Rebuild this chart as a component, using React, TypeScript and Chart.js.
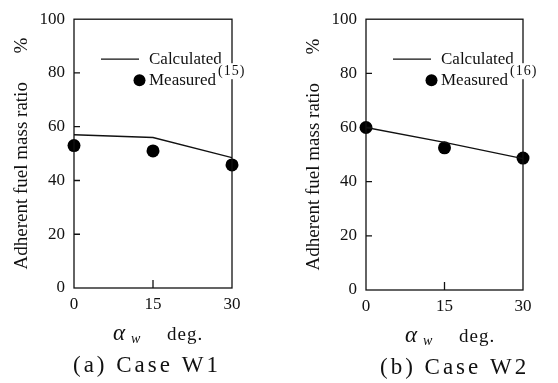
import React, { useEffect, useRef } from "react";
import { Chart, registerables } from "chart.js";

Chart.register(...registerables);

// ---- data ----
const angles = [0, 15, 30];
const w1Calculated = [57, 56, 48.5];
const w1Measured = [53, 51, 45.8];
const w2Calculated = [60, 54.5, 48.5];
const w2Measured = [60, 52.5, 48.7];
const xTickValues = [0, 15, 30];
const yTickValues = [0, 20, 40, 60, 80, 100];
const yAxisTitle = "Adherent fuel mass ratio      %";
const xAxisSymbol = "α";
const xAxisSub = "w";
const xAxisUnit = "deg.";
const legendCalculated = "Calculated";
const legendMeasured = "Measured";
const panelRefs = ["(15)", "(16)"];
const panelCaptions = ["(a) Case W1", "(b) Case W2"];

const SERIF = '"Liberation Serif", "Times New Roman", serif';
const INK = "#111";

type Panel = {
  calc: number[];
  meas: number[];
  ref: string;
  caption: string;
  padding: { left: number; right: number; top: number; bottom: number };
  captionDx: number;
};

const panels: Panel[] = [
  {
    calc: w1Calculated,
    meas: w1Measured,
    ref: panelRefs[0],
    caption: panelCaptions[0],
    padding: { left: 0, right: 47, top: 11, bottom: 65 },
    captionDx: -1,
  },
  {
    calc: w2Calculated,
    meas: w2Measured,
    ref: panelRefs[1],
    caption: panelCaptions[1],
    padding: { left: 13, right: 35, top: 13, bottom: 63 },
    captionDx: 14,
  },
];

function makeDecor(p: Panel) {
  return {
    id: "decor",
    afterDraw(chart: any) {
      const { ctx, chartArea: a, scales } = chart;
      const xs = scales.x;
      const ys = scales.y;
      ctx.save();
      // frame
      ctx.strokeStyle = INK;
      ctx.lineWidth = 1.3;
      ctx.strokeRect(a.left, a.top, a.right - a.left, a.bottom - a.top);
      // inside tick marks
      ctx.beginPath();
      for (const v of yTickValues) {
        if (v === yTickValues[0] || v === yTickValues[yTickValues.length - 1]) continue;
        const py = ys.getPixelForValue(v);
        ctx.moveTo(a.left, py);
        ctx.lineTo(a.left + 6, py);
      }
      for (const v of xTickValues) {
        if (v === xTickValues[0] || v === xTickValues[xTickValues.length - 1]) continue;
        const px = xs.getPixelForValue(v);
        ctx.moveTo(px, a.bottom);
        ctx.lineTo(px, a.bottom - 8);
      }
      ctx.stroke();

      // legend
      ctx.lineWidth = 1.3;
      ctx.beginPath();
      ctx.moveTo(a.left + 27, a.top + 40);
      ctx.lineTo(a.left + 65, a.top + 40);
      ctx.stroke();
      ctx.fillStyle = "#000";
      ctx.beginPath();
      ctx.arc(a.left + 65.5, a.top + 61, 6, 0, Math.PI * 2);
      ctx.fill();
      ctx.font = `17px ${SERIF}`;
      ctx.textBaseline = "alphabetic";
      ctx.textAlign = "left";
      ctx.fillStyle = INK;
      ctx.fillText(legendCalculated, a.left + 75, a.top + 45);
      ctx.fillText(legendMeasured, a.left + 75, a.top + 65.5);
      const mw = ctx.measureText(legendMeasured).width;
      ctx.font = `14px ${SERIF}`;
      (ctx as any).letterSpacing = "1px";
      const rx = a.left + 75 + mw + 2;
      const rw = ctx.measureText(p.ref).width;
      ctx.fillStyle = "#fff";
      ctx.fillRect(rx, a.top + 44, rw, 16);
      ctx.fillStyle = INK;
      ctx.fillText(p.ref, rx, a.top + 56);

      // x-axis title
      const by = a.bottom + 52;
      (ctx as any).letterSpacing = "0px";
      ctx.font = `italic 23px ${SERIF}`;
      ctx.fillText(xAxisSymbol, a.left + 39, by);
      ctx.font = `italic 14px ${SERIF}`;
      ctx.fillText(xAxisSub, a.left + 57, by + 3);
      ctx.font = `19px ${SERIF}`;
      (ctx as any).letterSpacing = "1px";
      ctx.fillText(xAxisUnit, a.left + 93, by);

      // caption
      ctx.font = `23px ${SERIF}`;
      (ctx as any).letterSpacing = "3px";
      ctx.fillText(p.caption, a.left + p.captionDx, a.bottom + 84);
      ctx.restore();
    },
  };
}

function PanelChart({ p, left }: { p: Panel; left: number }) {
  const ref = useRef<HTMLCanvasElement | null>(null);
  useEffect(() => {
    if (!ref.current) return;
    const chart = new Chart(ref.current, {
      type: "scatter",
      data: {
        datasets: [
          {
            label: legendCalculated,
            data: angles.map((x, i) => ({ x, y: p.calc[i] })),
            showLine: true,
            borderColor: INK,
            borderWidth: 1.4,
            pointRadius: 0,
            fill: false,
          },
          {
            label: legendMeasured,
            data: angles.map((x, i) => ({ x, y: p.meas[i] })),
            showLine: false,
            pointRadius: 6.5,
            pointBackgroundColor: "#000",
            pointBorderWidth: 0,
            clip: false,
          } as any,
        ],
      },
      options: {
        animation: false,
        responsive: false,
        events: [],
        layout: { padding: p.padding },
        plugins: { legend: { display: false }, tooltip: { enabled: false } },
        scales: {
          x: {
            type: "linear",
            min: 0,
            max: 30,
            afterBuildTicks: (s: any) => {
              s.ticks = xTickValues.map((v) => ({ value: v }));
            },
            afterFit: (s: any) => {
              s.height = 30;
            },
            grid: { display: false, drawTicks: false },
            border: { display: false },
            ticks: {
              color: INK,
              font: { family: SERIF, size: 17 },
              padding: 6,
              maxRotation: 0,
            },
          },
          y: {
            type: "linear",
            min: 0,
            max: 100,
            afterBuildTicks: (s: any) => {
              s.ticks = yTickValues.map((v) => ({ value: v }));
            },
            afterFit: (s: any) => {
              s.width = 74;
            },
            grid: { display: false, drawTicks: false },
            border: { display: false },
            ticks: {
              color: INK,
              font: { family: SERIF, size: 17 },
              padding: 9,
            },
            title: {
              display: true,
              text: yAxisTitle,
              color: INK,
              font: { family: SERIF, size: 19 },
              padding: { top: 11, bottom: 0 },
            },
          },
        },
      },
      plugins: [makeDecor(p)],
    });
    return () => chart.destroy();
  }, [p]);
  return (
    <canvas
      ref={ref}
      width={279}
      height={383}
      style={{ position: "absolute", left, top: 0, width: 279, height: 383, display: "block" }}
    />
  );
}

export default function App() {
  return (
    <div
      style={{
        position: "absolute",
        left: 0,
        top: 0,
        width: 558,
        height: 383,
        background: "#fff",
        overflow: "hidden",
      }}
    >
      <PanelChart p={panels[0]} left={0} />
      <PanelChart p={panels[1]} left={279} />
    </div>
  );
}
